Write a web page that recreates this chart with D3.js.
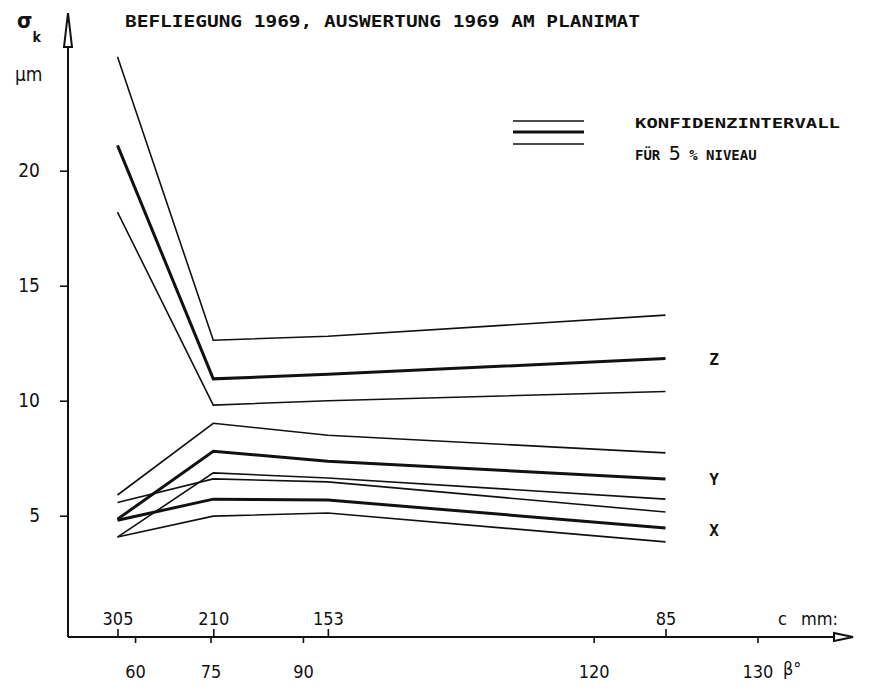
<!DOCTYPE html>
<html>
<head>
<meta charset="utf-8">
<script src="https://cdn.jsdelivr.net/npm/d3@7"></script>
<style>
  body { margin: 0; background: #fff; }
  .lbl { font-family: "DejaVu Sans Condensed", "Liberation Sans Narrow", "DejaVu Sans", sans-serif; fill: #111; }
  .typ { font-family: "DejaVu Sans Mono", monospace; font-weight: bold; fill: #111; }
</style>
</head>
<body>
<div class="chart"></div>
<script>
// focal lengths c (mm) at which the accuracy was measured
const cValues = [305, 210, 153, 85];
const betaTicks = [60, 75, 90, 120, 130];
const yTicks = [5, 10, 15, 20];

// sigma_k in micrometres: mean and 5% confidence bounds
const zUpper = [24.95, 12.63, 12.8, 13.72];
const zMean  = [21.1, 10.95, 11.15, 11.83];
const zLower = [18.2, 9.81, 10.0, 10.4];
const yUpper = [5.9, 9.02, 8.5, 7.73];
const yMean  = [4.85, 7.8, 7.37, 6.6];
const yLower = [4.07, 6.86, 6.64, 5.72];
const xUpper = [5.57, 6.6, 6.47, 5.16];
const xMean  = [4.8, 5.72, 5.68, 4.47];
const xLower = [4.07, 4.98, 5.12, 3.86];

const seriesNames = ['Z', 'Y', 'X'];

const width = 890, height = 691;
const halfDiag = 162.6; // half the image diagonal, 23 x 23 cm format

const svg = d3.select('.chart')
  .append('svg')
  .attr('width', width)
  .attr('height', height);

// horizontal position is linear in 1/c (= tan(beta/2) / halfDiag)
const xScale = d3.scaleLinear()
  .domain([1 / 305, 1 / 85])
  .range([117.5, 665.5]);

const yScale = d3.scaleLinear()
  .domain([0, 25])
  .range([630.7, 55.7]);

const axisX = 68, axisY = 637;

const line = d3.line()
  .x((d, i) => xScale(1 / cValues[i]))
  .y(d => yScale(d));

const bands = [
  {vals: zUpper, w: 1.6}, {vals: zMean, w: 3}, {vals: zLower, w: 1.6},
  {vals: yUpper, w: 1.6}, {vals: yMean, w: 3}, {vals: yLower, w: 1.6},
  {vals: xUpper, w: 1.6}, {vals: xMean, w: 3}, {vals: xLower, w: 1.6}
];

svg.selectAll('.curve')
  .data(bands)
  .enter()
  .append('path')
  .attr('class', 'curve')
  .attr('d', d => line(d.vals))
  .attr('fill', 'none')
  .attr('stroke', '#111')
  .attr('stroke-width', d => d.w)
  .attr('stroke-linejoin', 'miter');

// series labels to the right of the curves
svg.selectAll('.serLbl')
  .data(seriesNames)
  .enter()
  .append('text')
  .attr('class', 'typ')
  .attr('x', 714)
  .attr('y', (d, i) => [365, 485, 536][i])
  .attr('text-anchor', 'middle')
  .style('font-size', '16px')
  .text(d => d);

// y axis
const yAxis = d3.axisLeft(yScale)
  .tickValues(yTicks)
  .tickSize(8)
  .tickPadding(20)
  .tickFormat(d3.format('d'));

const gy = svg.append('g')
  .attr('transform', `translate(${axisX},0)`)
  .call(yAxis);
gy.select('.domain').remove();
gy.selectAll('line').attr('stroke', '#111').attr('stroke-width', 1.6);
gy.selectAll('text')
  .attr('class', 'lbl')
  .style('font-size', '19px')
  .attr('font-family', null);

// c axis (ticks above)
const cAxis = d3.axisTop(xScale)
  .tickValues(cValues.map(c => 1 / c))
  .tickSize(8)
  .tickPadding(4)
  .tickFormat(d => Math.round(1 / d));

const gc = svg.append('g')
  .attr('transform', `translate(0,${axisY})`)
  .call(cAxis);
gc.select('.domain').remove();
gc.selectAll('line').attr('stroke', '#111').attr('stroke-width', 1.6);
gc.selectAll('text')
  .attr('class', 'lbl')
  .style('font-size', '18px')
  .attr('font-family', null);

// beta axis (ticks below)
const bAxis = d3.axisBottom(xScale)
  .tickValues(betaTicks.map(b => Math.tan(b * Math.PI / 360) / halfDiag))
  .tickSize(6)
  .tickPadding(22)
  .tickFormat((d, i) => betaTicks[i]);

const gb = svg.append('g')
  .attr('transform', `translate(0,${axisY})`)
  .call(bAxis);
gb.select('.domain').remove();
gb.selectAll('line').attr('stroke', '#111').attr('stroke-width', 1.6);
gb.selectAll('text')
  .attr('class', 'lbl')
  .style('font-size', '18px')
  .attr('font-family', null);

// axis lines with open arrow heads
svg.append('path')
  .attr('d', `M${axisX},${axisY} V47 M834,${axisY} H${axisX}`)
  .attr('stroke', '#111')
  .attr('stroke-width', 2)
  .attr('fill', 'none');

svg.append('path')
  .attr('d', `M${axisX},13 L${axisX + 4},47 L${axisX - 4},47 Z`)
  .attr('stroke', '#111')
  .attr('stroke-width', 2)
  .attr('fill', '#fff');

svg.append('path')
  .attr('d', `M853,${axisY} L834,${axisY - 4} L834,${axisY + 4} Z`)
  .attr('stroke', '#111')
  .attr('stroke-width', 2)
  .attr('fill', '#fff');

// axis titles
const sig = svg.append('text')
  .attr('class', 'lbl')
  .attr('x', 17)
  .attr('y', 28)
  .style('font-size', '22px')
  .style('font-weight', 'bold');
sig.append('tspan').text('σ');
sig.append('tspan').attr('dy', 14).style('font-size', '14px').text('k');

svg.append('text')
  .attr('class', 'lbl')
  .attr('x', 15)
  .attr('y', 81)
  .style('font-size', '19px')
  .text('µm');

svg.append('text')
  .attr('class', 'lbl')
  .attr('x', 778)
  .attr('y', 625)
  .style('font-size', '18px')
  .text('c');

svg.append('text')
  .attr('class', 'lbl')
  .attr('x', 801)
  .attr('y', 625)
  .style('font-size', '18px')
  .text('mm:');

svg.append('text')
  .attr('class', 'lbl')
  .attr('x', 783)
  .attr('y', 675)
  .style('font-size', '18px')
  .text('β°');

// title
svg.append('text')
  .attr('class', 'typ')
  .attr('x', 125)
  .attr('y', 27)
  .attr('textLength', 515)
  .attr('lengthAdjust', 'spacingAndGlyphs')
  .style('font-size', '15px')
  .text('BEFLIEGUNG 1969, AUSWERTUNG 1969 AM PLANIMAT');

// legend
const legendY = [121, 132, 144];
svg.selectAll('.legLine')
  .data(legendY)
  .enter()
  .append('line')
  .attr('x1', 513)
  .attr('x2', 584)
  .attr('y1', d => d)
  .attr('y2', d => d)
  .attr('stroke', '#111')
  .attr('stroke-width', (d, i) => i === 1 ? 3 : 1.6);

svg.append('text')
  .attr('class', 'typ')
  .attr('x', 635)
  .attr('y', 128)
  .attr('textLength', 205)
  .attr('lengthAdjust', 'spacingAndGlyphs')
  .style('font-size', '14px')
  .text('KONFIDENZINTERVALL');

const lg2 = svg.append('text')
  .attr('class', 'typ')
  .attr('x', 635)
  .attr('y', 160)
  .style('font-size', '14px');
lg2.append('tspan').text('FÜR ');
lg2.append('tspan').style('font-size', '20px').style('font-weight', 'normal').text('5');
lg2.append('tspan').text(' % NIVEAU');
</script>
</body>
</html>
